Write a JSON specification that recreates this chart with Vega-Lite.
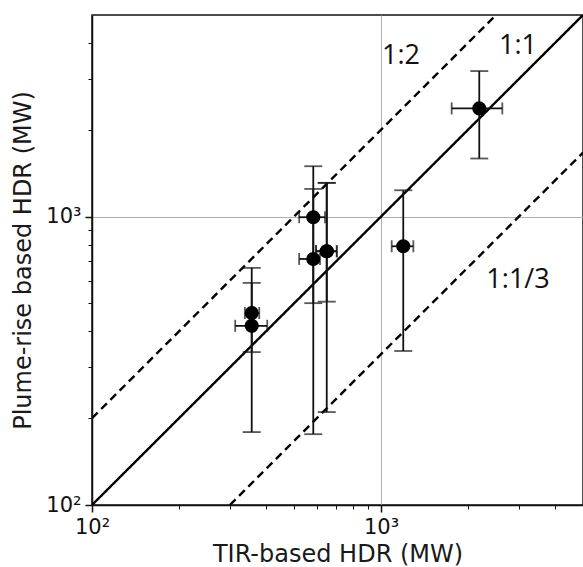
{
  "$schema": "https://vega.github.io/schema/vega-lite/v6.json",
  "width": 491,
  "height": 490,
  "autosize": "none",
  "padding": {"left": 92, "top": 15, "right": 0, "bottom": 62},
  "config": {
    "view": {"stroke": "#111", "strokeWidth": 1.5},
    "font": "DejaVu Sans"
  },
  "datasets": {
    "lines": [
      {"series": "1:1", "dash": "solid", "x": 100, "y": 100},
      {"series": "1:1", "dash": "solid", "x": 5000, "y": 5000},
      {"series": "1:2", "dash": "dashed", "x": 100, "y": 200},
      {"series": "1:2", "dash": "dashed", "x": 2500, "y": 5000},
      {"series": "1:1/3", "dash": "dashed", "x": 300, "y": 100},
      {"series": "1:1/3", "dash": "dashed", "x": 5000, "y": 1666.7}
    ],
    "points": [
      {"x": 357, "y": 463, "xlo": 338, "xhi": 379, "ylo": 339, "yhi": 664},
      {"x": 357, "y": 418, "xlo": 313, "xhi": 404, "ylo": 179, "yhi": 589},
      {"x": 583, "y": 995, "xlo": 521, "xhi": 640, "ylo": 501, "yhi": 1495},
      {"x": 583, "y": 713, "xlo": 521, "xhi": 615, "ylo": 176, "yhi": 1247},
      {"x": 649, "y": 758, "xlo": 596, "xhi": 703, "ylo": 210, "yhi": 1309},
      {"x": 649, "y": 758, "xlo": 596, "xhi": 703, "ylo": 507, "yhi": 1309},
      {"x": 1194, "y": 789, "xlo": 1089, "xhi": 1294, "ylo": 342, "yhi": 1234},
      {"x": 2188, "y": 2372, "xlo": 1756, "xhi": 2629, "ylo": 1590, "yhi": 3196}
    ],
    "labels": [
      {"x": 1173, "y": 3594, "label": "1:2"},
      {"x": 2979, "y": 3890, "label": "1:1"},
      {"x": 2979, "y": 604, "label": "1:1/3"}
    ]
  },
  "resolve": {"axis": {"x": "independent", "y": "independent"}},
  "layer": [
    {
      "data": {"name": "lines"},
      "mark": {"type": "line", "color": "black", "strokeWidth": 2.4, "clip": true},
      "encoding": {
        "x": {
          "field": "x", "type": "quantitative",
          "scale": {"type": "log", "domain": [100, 5000], "nice": false},
          "axis": {
            "orient": "bottom", "values": [100, 1000],
            "labelExpr": "datum.value == 100 ? '10²' : '10³'",
            "title": "TIR-based HDR (MW)", "titleFontSize": 24, "titleFontWeight": "normal", "titleColor": "#1a1a1a",
            "labelFontSize": 21, "labelColor": "#111", "labelFlush": false, "labelOverlap": false, "labelPadding": 4,
            "tickSize": 7, "tickWidth": 1.5, "tickColor": "#111",
            "domainColor": "#111", "domainWidth": 1.5,
            "grid": true, "gridColor": "#b0b0b0", "gridWidth": 1, "titlePadding": 5
          }
        },
        "y": {
          "field": "y", "type": "quantitative",
          "scale": {"type": "log", "domain": [100, 5000], "nice": false},
          "axis": {
            "orient": "left", "values": [100, 1000],
            "labelExpr": "datum.value == 100 ? '10²' : '10³'",
            "title": "Plume-rise based HDR (MW)", "titleFontSize": 24, "titleFontWeight": "normal", "titleColor": "#1a1a1a",
            "labelFontSize": 21, "labelColor": "#111", "labelFlush": false, "labelOverlap": false, "labelPadding": 4,
            "tickSize": 7, "tickWidth": 1.5, "tickColor": "#111",
            "domainColor": "#111", "domainWidth": 1.5,
            "grid": true, "gridColor": "#b0b0b0", "gridWidth": 1, "titlePadding": 10
          }
        },
        "strokeDash": {"field": "dash", "type": "nominal", "scale": {"domain": ["solid", "dashed"], "range": [[1, 0], [8, 5]]}, "legend": null},
        "detail": {"field": "series"}
      }
    },
    {
      "data": {"name": "points"},
      "mark": {"type": "rule", "color": "#111", "strokeWidth": 1.8},
      "encoding": {
        "x": {
          "field": "x", "type": "quantitative",
          "axis": {
            "orient": "bottom", "values": [200, 300, 400, 500, 600, 700, 800, 900, 2000, 3000, 4000],
            "labels": false, "domain": false, "grid": false, "title": null,
            "tickSize": 4, "tickWidth": 1, "tickColor": "#111"
          }
        },
        "y": {
          "field": "ylo", "type": "quantitative",
          "axis": {
            "orient": "left", "values": [200, 300, 400, 500, 600, 700, 800, 900, 2000, 3000, 4000],
            "labels": false, "domain": false, "grid": false, "title": null,
            "tickSize": 4, "tickWidth": 1, "tickColor": "#111"
          }
        },
        "y2": {"field": "yhi"}
      }
    },
    {
      "data": {"name": "points"},
      "mark": {"type": "rule", "color": "#111", "strokeWidth": 1.8},
      "encoding": {
        "x": {"field": "xlo", "type": "quantitative", "axis": null},
        "x2": {"field": "xhi"},
        "y": {"field": "y", "type": "quantitative", "axis": null}
      }
    },
    {
      "data": {"name": "points"},
      "mark": {"type": "tick", "orient": "horizontal", "color": "#111", "size": 18, "thickness": 1.8},
      "encoding": {
        "x": {"field": "x", "type": "quantitative", "axis": null},
        "y": {"field": "ylo", "type": "quantitative", "axis": null}
      }
    },
    {
      "data": {"name": "points"},
      "mark": {"type": "tick", "orient": "horizontal", "color": "#111", "size": 18, "thickness": 1.8},
      "encoding": {
        "x": {"field": "x", "type": "quantitative", "axis": null},
        "y": {"field": "yhi", "type": "quantitative", "axis": null}
      }
    },
    {
      "data": {"name": "points"},
      "mark": {"type": "tick", "orient": "vertical", "color": "#111", "size": 12, "thickness": 1.8},
      "encoding": {
        "x": {"field": "xlo", "type": "quantitative", "axis": null},
        "y": {"field": "y", "type": "quantitative", "axis": null}
      }
    },
    {
      "data": {"name": "points"},
      "mark": {"type": "tick", "orient": "vertical", "color": "#111", "size": 12, "thickness": 1.8},
      "encoding": {
        "x": {"field": "xhi", "type": "quantitative", "axis": null},
        "y": {"field": "y", "type": "quantitative", "axis": null}
      }
    },
    {
      "data": {"name": "points"},
      "mark": {"type": "circle", "color": "black", "size": 200, "opacity": 1},
      "encoding": {
        "x": {"field": "x", "type": "quantitative", "axis": null},
        "y": {"field": "y", "type": "quantitative", "axis": null}
      }
    },
    {
      "data": {"name": "labels"},
      "mark": {"type": "text", "font": "Open Sans", "fontSize": 27, "color": "#111", "align": "center", "baseline": "middle"},
      "encoding": {
        "x": {"field": "x", "type": "quantitative", "axis": null},
        "y": {"field": "y", "type": "quantitative", "axis": null},
        "text": {"field": "label"}
      }
    }
  ]
}
